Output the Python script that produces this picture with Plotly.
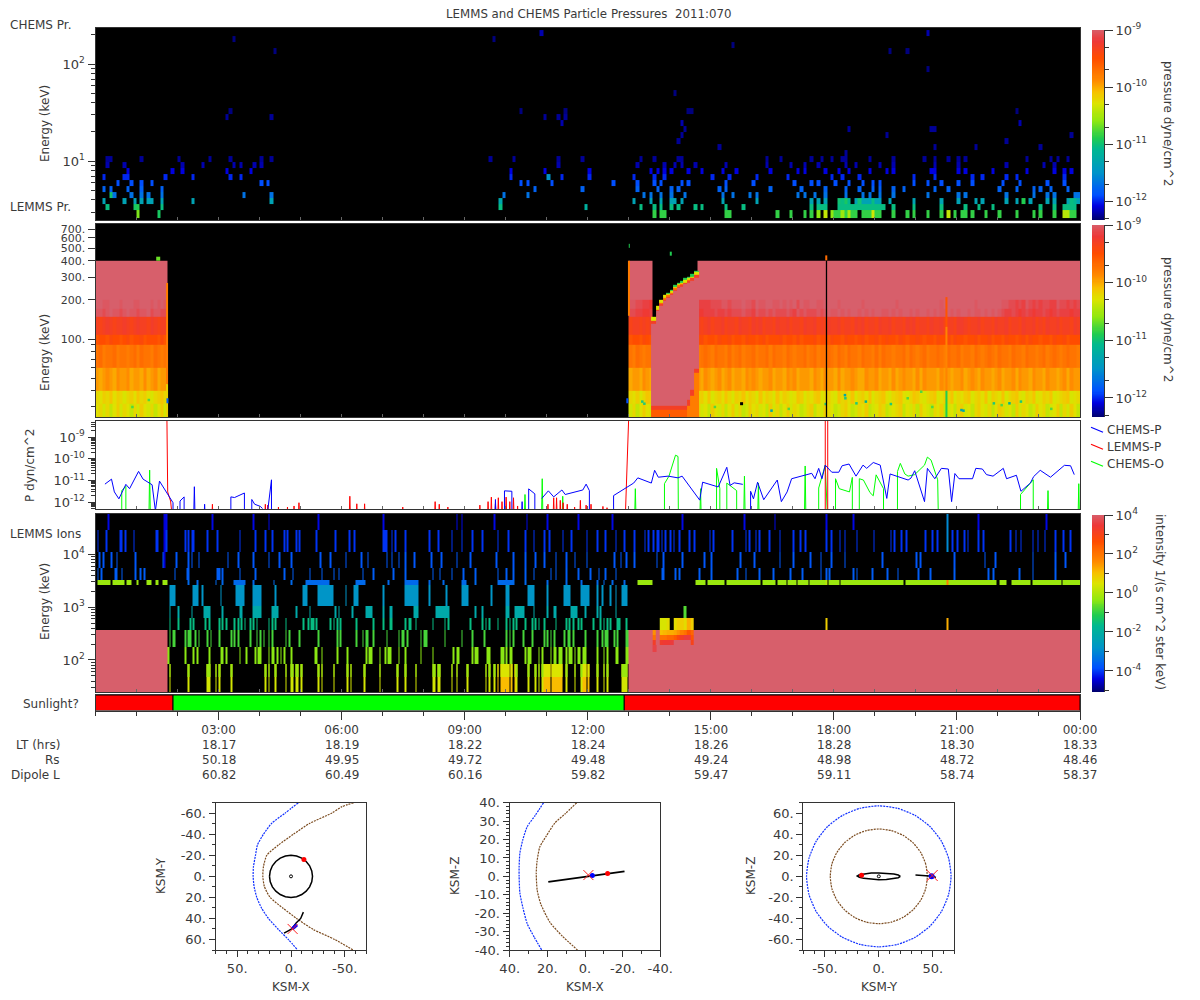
import numpy as np
import plotly.graph_objects as go

# ---------- shared scales ----------
TITLE = "LEMMS and CHEMS Particle Pressures\u00a0\u00a02011:070"
COLORSCALE = [[0.00, "#000070"], [0.07, "#0000e0"], [0.13, "#0050ff"], [0.25, "#0095c8"], [0.37, "#00b890"],
              [0.43, "#20cc50"], [0.52, "#90e810"], [0.61, "#dce400"], [0.67, "#f8c000"], [0.73, "#ff8c00"],
              [0.85, "#ff4c00"], [0.94, "#ee3838"], [1.00, "#d75f6b"]]
P_MIN, P_MAX = -12.33, -9.0
I_MIN, I_MAX = -5.08, 4.0

# ---------- panel 1: CHEMS pressure (columns are 5 minute bins, rows energy channels) ----------
chems_rows = {
    0: [163,165,166,184,185,199,203,207,209,211,213,(215,222),224,225,226,227,228,229,233,237,239,243,247,249,251,253,254,256,260,264,269,274,276,280,(283,286),12,18],
    1: [3,11,19,118,143,159,163,165,168,170,175,177,184,189,209,211,212,213,217,218,219,220,221,222,223,224,225,226,227,228,229,230,233,239,247,254,258,262,276,280,283,284,285,286],
    2: [2,8,11,13,15,16,19,28,51,118,157,162,165,168,169,171,183,193,209,211,213,217,218,219,220,222,223,224,225,226,227,228,229,232,239,247,252,257,259,266,269,271,273,278,280,284,285,286,287],
    3: [4,5,10,13,15,19,43,51,119,126,160,162,165,168,172,183,186,191,193,205,207,210,213,219,224,226,229,233,243,252,254,266,274,278,280,286,287],
    4: [2,4,9,13,19,128,142,158,164,168,170,182,184,197,206,213,219,223,227,229,233,236,245,249,264,269,274,276,279,284],
    5: [6,10,13,16,48,50,124,126,133,151,158,163,165,171,173,184,192,204,209,211,216,220,224,227,229,239,243,247,252,256,265,270,278,283],
    6: [2,8,9,20,28,39,42,121,132,136,144,157,163,166,180,185,193,202,215,218,223,239,245,256,259,266,269,283],
    7: [9,22,25,38,45,121,131,144,162,164,166,168,173,177,183,187,197,205,207,213,217,220,226,231,233,244,245,252,254,262,272,280,283,285],
    8: [3,8,25,31,40,42,46,48,135,158,166,169,171,175,184,196,203,207,211,219,222,229,233,245,252,266,277,280],
    9: [3,4,13,24,33,39,48,51,115,122,135,142,159,163,170,171,196,200,209,212,215,218,219,226,233,242,245,249,252,254,272,279,281,284],
    10: [219],
    11: [182,245,257,276],
    12: [170,266],
    13: [171,231,285],
    14: [172,220,244,245],
    15: [136,171,270],
    16: [38,51,131,135,137],
    17: [39,124,137,173,174,269],
    20: [169],
    24: [243],
    27: [52,232,237],
    28: [186],
    29: [40,116],
    30: [130,243],
}
chems_row_level = [-10.85,-11.05,-11.35,-11.7,-11.8,-11.9,-12.0,-12.1,-12.2,-12.25,-12.25,-12.25,-12.25,-12.25,-12.25,-12.2,-12.25,-12.3,-12.3,-12.3,-12.3,-12.3,-12.3,-12.3,-12.3,-12.3,-12.3,-12.3,-12.3,-12.3,-12.2,-12.3]
chems_override_col = [12,12,4,11,18,118,143,132,213,220,218,227,249,283,284,271,211,215,217,218,219,220,223,227,285,286]
chems_override_row = [0,1,3,1,0,2,1,6,0,0,0,0,0,0,0,2,0,0,2,2,2,2,2,2,2,2]
chems_override_val = [-10.65,-10.9,-11.0,-10.95,-10.95,-11.3,-11.2,-11.5,-10.4,-10.5,-10.55,-10.35,-10.4,-10.45,-10.45,-10.9,-10.6,-10.6,-11.0,-11.05,-10.95,-11.1,-11.0,-11.05,-11.05,-11.1]

# ---------- panel 2: LEMMS pressure (bands by columns) ----------
lemms_left_cols = 21      # first block of 5 minute bins
lemms_mid_start = 156
lemms_right_start = 176
lemms_band_edges = [25, 31.6, 39.8, 59.8, 90, 107, 147, 172, 199, 400]
lemms_band_base = [-10.28, -10.22, -9.95, -9.75, -9.5, -9.32, -9.10, -9.10, -8.9]
lemms_band_step = [0.06, 0.05, 0.06, 0.05, 0.05, 0.05, 0.06, 0.06, 0.0]
lemms_band_digits = [
    "231302413203142130241" "1302421" "3120421302413014231204130241320134021432013420132401243012340213042103240120341203421302431204132014230124031420413201243021340213",
    "213241320231423102342" "2130243" "2314023142032413204132041320143021340231042314023140234102341024310234013240213402314032140234103240132401234012341023410231420",
    "212321322312213123122" "1221321" "2132123123122132321223122132312221321322131223211322312213123221313222132212231232132212312231322132213221231322123213212232",
    "231223122123132213212" "2132122" "1232132213123122312231322132122312312232132132213221313221223132123122321322312213212321322132213221231232123221321322123123",
    "122132212312231222131" "1221321" "2312213223122132212312223122131222312213221322123122312322132122321221322313221223122312213221231322122132231222132212322132",
    "212321223212322132122" "1221212" "2123122312213221323122132231221322312132231221323122132231221323122132231221332122312213223122132231213223122132",
    "332343323433233423322" "2211001" "001112112122" "2322132232322232132322232" "3433434344343434433434344343443434334343443433434343" "21121012101121012111011",
    "443344434443344434343" "3322110" "111122233233" "3433243344334343424334433" "4444344444434444444443444444444444344444444434444444" "33221213212122113221212",
    "222222222222222222222" "2222222" + "2" * 112,
]
# small green / teal specks in the low channels
speck_hours = [13.38,13.33,16.48,17.8,18.27,18.28,18.55,18.78,19.39,20.13,21.11,21.16,21.9,22.09,22.28,22.56,0.9,1.3,15.1,16.9,19.8,20.4,23.3]
speck_kev = [31.8,33,28.1,31.6,37,35,32,33,31.6,39.3,28.4,28.1,32,31,32,33,30,34,30,29,35,30,29]
speck_color = ["#20c878","#20c878","#00a8a8","#20c878","#00a8a8","#20c878","#20c878","#00b090","#20c878","#50d840","#00a8a8","#00a8a8","#20c878","#50d840","#00b090","#20c878","#50d840","#50d840","#50d840","#50d840","#50d840","#50d840","#50d840"]

# dispersion event: upper edge and lower edge of saturation in keV, for bins 163..175
hot_first_col = 163
hot_top_kev = [140,172,193,207,218,230,247,260,270,279,290,300,316]
hot_bottom_kev = [31,31,31,31,31,31,31,31,31,31,34,40.5,60]

# thin features: hours from, hours to, keV from, keV to, log10 pressure
spot_h0 = [1.72,1.72,12.98,20.72,20.72,20.72,17.79,14.0,13.0,1.48,12.94,1.73]
spot_h1 = [1.76,1.76,13.02,20.78,20.78,20.78,17.83,14.05,13.03,1.58,12.98,1.77]
spot_e0 = [45,25,150,124,40,25,400,440,500,400,32,32]
spot_e1 = [270,45,400,210,124,40,440,470,540,430,35,35]
spot_v = [-9.8,-10.2,-9.8,-9.55,-9.85,-10.9,-9.7,-10.9,-10.9,-10.7,-11.9,-11.8]
dropout_hours = [17.82, 17.82]
dropout_kev = [25, 400]
dark_pixel_hour = [15.75]
dark_pixel_kev = [31.8]

# ---------- panel 3: line pressures (log10 dyn/cm^2, -13 is below the floor) ----------
chems_p_hours = [.23,.39,.46,.57,.74,.83,1.05,1.16,1.38,1.46,1.56,1.69,1.83,1.89,1.89,None,
                 2.06,2.06,2.16,2.16,None,3.3,3.3,3.39,3.63,3.63,None,3.81,3.81,3.88,4.02,4.07,None,4.16,4.29,4.29,None,
                 9.97,9.97,10.15,10.15,None,10.56,10.56,10.71,10.71,None,10.88,11.04,11.17,11.37,11.45,11.88,11.96,12.04,12.04,None,
                 12.63,12.63,13.12,13.22,13.55,13.63,13.72,13.96,14.2,14.3,14.73,14.8,15.18,15.39,15.47,15.57,15.78,None,
                 15.97,15.97,16.04,16.14,16.29,16.62,16.72,16.86,16.97,17.46,17.54,17.63,17.71,17.79,17.95,18.12,18.2,18.37,18.54,18.71,18.8,18.96,19.13,19.29,19.37,19.62,19.81,19.88,19.97,20.21,20.28,20.46,20.62,20.79,20.87,20.95,21.05,21.38,21.46,21.62,21.72,21.88,22.13,22.21,22.45,22.56,22.79,22.87,23.03,23.28,23.62,23.77,23.86]
chems_p_log = [-11.17,-10.94,-11.53,-11.85,-11.18,-11.38,-10.58,-10.94,-11.2,-12.4,-11.03,-11.42,-11.8,-12.03,-13,None,
               -13,-11.95,-11.76,-13,None,-13,-11.76,-11.79,-11.58,-13,None,-13,-11.88,-12.1,-12.2,-12.3,None,-13,-10.97,-13,None,
               -13,-11.48,-11.5,-13,None,-13,-11.39,-11.62,-13,None,-11.83,-11.48,-11.76,-11.44,-11.65,-11.44,-11.17,-11.47,-13,None,
               -13,-11.7,-11.12,-10.88,-11.12,-10.53,-10.85,-10.8,-10.88,-10.8,-11.91,-11.08,-11.3,-10.39,-11.23,-11.11,-11.18,None,
               -13,-11.5,-11.85,-11.08,-11.89,-10.98,-11.98,-11.53,-10.92,-10.67,-10.92,-10.44,-10.92,-10.29,-10.62,-10.62,-10.32,-10.24,-10.8,-10.29,-10.44,-10.17,-10.29,-11.83,-10.7,-10.85,-10.98,-10.89,-10.55,-11.98,-10.44,-10.92,-10.44,-10.47,-11.98,-10.68,-10.92,-10.92,-10.44,-10.47,-10.73,-10.8,-10.44,-10.92,-10.76,-11.5,-11.12,-10.82,-10.53,-10.85,-10.3,-10.32,-10.73]
chems_p_spike_hours = [2.39,2.64,9.73,10.38]
chems_p_spike_log = [-11.29,-12.1,-11.88,-11.98]

lemms_p_hours = [1.74,1.76,1.83,1.89,None,12.91,13.0,None,17.79,17.79,None,17.85,17.85]
lemms_p_log = [-8,-11.53,-11.95,-13,None,-13,-8,None,-13,-8,None,-13,-8]
lemms_p_spike_hours = [2.83,4.12,4.18,4.44,4.66,4.82,4.94,6.18,6.35,6.54,7.47,8.26,8.36,8.57,9.35,9.55,9.63,9.73,9.8,9.89,9.99,10.08,10.17,10.27,11.01,11.15,11.22,11.31,11.38,11.48,11.66,11.8,11.94,12.06,12.35,12.45]
lemms_p_spike_log = [-12.1,-12.1,-12.14,-12.23,-12.23,-12.18,-12.03,-11.73,-12.08,-12.08,-12.23,-11.98,-12.1,-12.23,-12.14,-11.98,-11.77,-12.08,-11.8,-11.98,-11.77,-11.98,-11.8,-12.18,-12.1,-11.8,-11.8,-11.92,-12.03,-12.1,-12.23,-11.92,-12.14,-12.1,-12.2,-12.26]

chems_o_hours = [.64,.64,.74,.74,None,13.87,13.87,13.98,14.14,14.2,14.21,None,15.14,15.14,15.22,15.22,None,15.39,15.39,15.63,15.63,None,
                 17.63,17.63,17.79,17.85,None,18.04,18.04,18.13,18.38,18.45,18.45,None,18.62,18.62,18.72,18.88,18.96,19.03,19.21,19.21,None,
                 19.55,19.55,19.62,19.73,19.81,19.97,20.21,20.28,20.37,20.53,20.55,None,22.55,22.55,22.86,22.86]
chems_o_log = [-13,-11.47,-11.27,-13,None,-13,-11.15,-10.8,-9.83,-9.89,-13,None,-13,-10.44,-11.38,-13,None,-13,-11.12,-11.47,-13,None,
               -13,-11.35,-10.29,-13,None,-13,-10.92,-11.38,-11.53,-10.86,-13,None,-13,-10.92,-10.98,-11.56,-11.71,-10.74,-11.38,-13,None,
               -13,-10.59,-10.21,-10.7,-10.8,-10.73,-10.29,-9.92,-10.06,-10.97,-13,None,-13,-11.65,-10.97,-13]
chems_o_spike_hours = [1.30,10.45,10.87,11.37,13.14,14.73,15.8,16.14,17.28,23.2,23.95]
chems_o_spike_log = [-10.52,-11.65,-10.92,-11.73,-11.38,-11.38,-10.8,-11.12,-10.33,-11.47,-11.15]

# ---------- panel 4: LEMMS ions (columns are 2.5 minute bins, tuple = run of bins) ----------
ion_row_edges_log = [1.394,1.924,2.252,2.568,2.795,3.023,3.42,3.515,3.742,4.05,4.46,4.763]
ion_row_level = [0.35,-0.4,-0.9,-1.6,-2.2,-2.8,-3.5,-3.7,-3.8,-4.1,-4.4]
ion_sat_cols = [(0,41),(312,575)]
ion_rows_cols = {
    0: [43,54,65,66,70,72,79,99,101,105,111,114,115,117,118,120,130,132,139,147,149,157,166,176,181,187,197,198,200,201,208,211,217,228,230,233,235,(237,241),243,245,246,253,257,259,(261,265),(267,272),275,280,(284,286),288,293,297,299,(308,310)],
    1: [42,52,57,59,66,73,74,76,84,88,93,95,96,101,103,104,106,108,110,114,128,129,132,141,147,158,160,161,166,169,171,172,177,181,190,197,209,211,212,220,222,223,229,230,237,238,240,242,243,251,253,254,259,261,266,268,269,271,272,275,277,278,280,282,283,285,286,293,297,299,304,305,310,311],
    2: [43,45,46,52,54,55,58,60,65,67,72,79,81,83,90,94,96,98,101,103,111,113,119,130,141,143,152,156,158,159,162,170,177,179,180,182,190,192,193,204,214,220,227,240,242,244,250,255,262,264,266,268,274,276,277,279,286,293,296,298,299,303,305,310,311],
    3: [43,48,55,57,64,66,72,74,76,81,83,85,87,90,92,94,101,103,105,111,121,124,126,127,129,137,139,141,143,152,162,168,172,173,181,183,184,187,197,204,206,219,226,228,230,235,240,242,244,246,251,255,257,259,262,269,275,277,279,282,284,291,295,297,299,301,305,306,310],
    4: [43,48,56,(63,66),74,(84,85),(92,96),(103,106),117,125,140,142,150,(158,161),168,(172,173),(186,188),(199,206),222,226,(240,241),(245,250),256,264,(268,269),(278,281),286,293,295,304],
    5: [(43,46),(57,59),62,73,(82,86),(92,96),105,(121,123),(130,138),146,(151,153),168,(181,188),195,205,(214,217),231,(240,241),(253,256),264,(274,277),(284,288),293,296,301,304,(308,310)],
    6: [54,59,70,74,(81,87),92,104,114,(123,136),(152,157),171,(181,188),195,203,(214,216),222,(235,244),251,264,275,284,293,297,302,309],
    7: [1,3,11,12,15,23,26,28,46,53,54,71,72,74,84,93,110,115,125,132,139,142,156,162,174,181,197,201,208,215,222,235,240,244,251,256,266,269,275,282,289,294,298,304,331,332,339,341,353,360,375,380,388,396,406,413,424,427,429,443,445,454,463,469,481,488,502,522,525,540,548,561],
    8: [2,4,9,12,23,39,47,54,56,60,77,83,92,101,107,114,131,137,146,155,159,170,173,177,181,186,196,202,211,219,234,244,251,257,262,269,275,280,287,303,307,310,315,328,332,343,356,360,377,385,400,408,418,424,430,438,460,480,482,502,520,526,548,561,567],
    9: [1,6,14,15,17,22,35,36,41,52,54,56,57,65,71,84,93,99,103,110,112,117,119,129,140,148,151,(168,170),173,175,181,195,200,208,214,220,226,235,241,251,256,262,265,273,278,287,293,298,304,309,315,321,323,326,328,329,331,333,336,338,341,347,350,359,361,372,380,382,386,388,394,400,408,412,415,427,430,435,438,445,455,465,467,471,474,485,489,492,501,504,508,510,516,519,535,538,541,548,551,555,561,566,570],
    10: [7,41,68,92,101,130,168,211,214,233,252,264,282,302,343,379,397,427,443,498,516,556],
}
ion_warm_cols = [(234,245),(262,272),(285,288)]
ion_warm_level = 1.05
ion_upper_low_log = [1.678, 1.924]     # upper half of the lowest channel reads greener
ion_upper_shift = -0.6
ion_lime_cols = [(1,8),(10,16),(18,20),24,(30,32),(35,36),(39,41),(317,325),(351,356),(358,367),(369,388),(390,397),(399,403),(405,409),(411,416),(418,427),(429,434),(436,472),(474,526),(529,532),(536,546),(548,564),(566,575)]
ion_lime_level = -0.25
ion_thin_col = [427,427,498,498,498,498,40,40,40]
ion_thin_row = [3,6,3,6,9,10,10,9,8]
ion_thin_val = [0.8,0.1,1.2,1.8,-3.0,-3.0,-4.5,-4.5,-4.5]
ion_row4_extra_col = [344,345]
# hot plasma event over the saturated block: keV edges (log10), 5 minute bins 163..174
ion_hot_edges_log = [2.284,2.379,2.473,2.568,2.795]
ion_hot_first_col = 163
ion_hot_z = [
    [3.2,None,3.3,3.4,3.4,3.5,4.0,4.0,4.0,4.0,4.0,3.0],
    [2.0,None,2.0,2.0,2.2,2.2,2.4,2.8,3.2,3.5,3.5,2.5],
    [1.5,None,1.0,1.1,1.2,1.2,1.3,1.5,1.8,2.0,2.5,2.2],
    [None,None,0.4,0.4,0.6,None,0.6,0.8,0.8,0.6,1.2,0.8],
]
ion_hot_low_hours = [13.58, 13.67]
ion_hot_low_kev = [10**2.15, 10**2.284]
ion_hot_low_z = [[3.6]]

# ---------- sunlight strip ----------
sun_start = [0.0, 1.89, 12.89]
sun_length = [1.89, 11.0, 11.11]
sun_color = ["#ff0000", "#00ff00", "#ff0000"]

# ---------- table below the time axis ----------
time_hours = [3,6,9,12,15,18,21,24]
time_labels = ["03:00","06:00","09:00","12:00","15:00","18:00","21:00","00:00"]
lt_hrs = ["18.17","18.19","18.22","18.24","18.26","18.28","18.30","18.33"]
rs_vals = ["50.18","49.95","49.72","49.48","49.24","48.98","48.72","48.46"]
dipole_l = ["60.82","60.49","60.16","59.82","59.47","59.11","58.74","58.37"]

# ---------- orbit plots ----------
xy_shock_x = [-6.8,5.6,17.9,25.6,31.2,33,34.9,35.2,34.3,31.8,27.2,21,11.7,2.5,-6.2]
xy_shock_y = [-70,-60,-50.5,-40,-29.8,-20,-9.2,0,9.8,20,30.5,40,50.5,60,70]
xy_pause_x = [-58.3,-46.9,-37.7,-17.6,-2.2,11.7,22.5,25.6,26.2,24.7,19.4,7.1,-5.2,-20.7,-40.7,-57.7]
xy_pause_y = [-70,-66,-60,-50.5,-40,-29.8,-20,-9.2,0,9.8,20,30.5,40,50.5,60,70]
orbit_ring_a = [20,19.3,17.3,14.1,10,5.2,0,-5.2,-10,-14.1,-17.3,-19.3,-20,-19.3,-17.3,-14.1,-10,-5.2,0,5.2,10,14.1,17.3,19.3,20]
orbit_ring_b = [0,5.2,10,14.1,17.3,19.3,20,19.3,17.3,14.1,10,5.2,0,-5.2,-10,-14.1,-17.3,-19.3,-20,-19.3,-17.3,-14.1,-10,-5.2,0]
xy_track_x = [-11.5,-9,-5,-0.6,3,6.5]
xy_track_y = [34,40,44,50,52,54]
xy_now_x, xy_now_y = [-12], [-16]
xy_seg_x, xy_seg_y = [-1,-5.5], [50,46]
xy_cross_x, xy_cross_y = [-1.5], [50]

xz_shock_x = [22,26.5,30.7,33,34.6,35,35,34.6,33,30.7,27,23]
xz_shock_z = [40,33,27,20,12.6,5,0,-9,-17,-25.7,-33,-40]
xz_pause_x = [4.4,10.5,16,20.5,24,25.5,25.9,25.4,23.5,18.6,12,4]
xz_pause_z = [40,34,29,22,16,8,1.6,-7.5,-15,-25,-32.5,-40]
xz_orbit_x = [19.5,-21]
xz_orbit_z = [-3,2.7]
xz_now_x, xz_now_z = [-12], [1.5]
xz_blue_x, xz_blue_z = [-3.9], [0.5]
xz_cross_x, xz_cross_z = [-1.8], [0.7]

yz_shock_y = [67,64.7,58,47.4,33.5,17.3,0,-17.3,-33.5,-47.4,-58,-64.7,-67,-64.7,-58,-47.4,-33.5,-17.3,0,17.3,33.5,47.4,58,64.7,67]
yz_shock_z = [0,17.3,33.5,47.4,58,64.7,67,64.7,58,47.4,33.5,17.3,0,-17.3,-33.5,-47.4,-58,-64.7,-67,-64.7,-58,-47.4,-33.5,-17.3,0]
yz_pause_y = [45,43.5,39,31.8,22.5,11.6,0,-11.6,-22.5,-31.8,-39,-43.5,-45,-43.5,-39,-31.8,-22.5,-11.6,0,11.6,22.5,31.8,39,43.5,45]
yz_pause_z = [0,11.6,22.5,31.8,39,43.5,45,43.5,39,31.8,22.5,11.6,0,-11.6,-22.5,-31.8,-39,-43.5,-45,-43.5,-39,-31.8,-22.5,-11.6,0]
yz_ring_y = [20,18,14,7,0,-7,-14,-18,-20,-18,-14,-7,0,7,14,18,20]
yz_ring_z = [0,1.3,2.3,3,3.3,3.2,2.6,1.6,0.4,-0.8,-1.9,-2.9,-3.3,-3.1,-2.4,-1.3,0]
yz_track_y = [34,40,46,50,53]
yz_track_z = [1.2,1,0.5,0,-1]
yz_now_y, yz_now_z = [-16], [1]
yz_blue_y, yz_blue_z = [49], [0]
yz_cross_y, yz_cross_z = [49.5], [0.8]

# ---------- page geometry ----------
W, H = 1200, 1000
FONT = "DejaVu Sans"
INK = "#3a3a3a"
FRAME = "#333333"
X0, X1 = 95.5, 1080
def xd(a, b): return [a / W, b / W]
def yd(top, bottom): return [1 - bottom / H, 1 - top / H]
def expand(spec):
    out = []
    for s in spec:
        if isinstance(s, tuple):
            out.extend(range(s[0], s[1] + 1))
        else:
            out.append(s)
    return out
def clean(a):
    return [[None if np.isnan(v) else float(v) for v in r] for r in a]
def powers(vals):
    return ["10<sup>%d</sup>" % v for v in vals]
def log_minor(lo, hi):
    return [m * 10.0 ** k for k in range(lo, hi) for m in range(2, 10)]

fig = go.Figure()
HM = dict(colorscale=COLORSCALE, showscale=False, hoverinfo="skip", xgap=0, ygap=0)

# panel 1
chems_edges = list(np.geomspace(2.71, 258, 33))
chems_edges[0] = 2.6
chems_x = [c / 12 for c in range(289)]
z1 = np.full((32, 288), np.nan)
for row, cols in chems_rows.items():
    for c in expand(cols):
        z1[row, c] = chems_row_level[row]
for c, r, v in zip(chems_override_col, chems_override_row, chems_override_val):
    z1[r, c] = v
fig.add_trace(go.Heatmap(x=chems_x, y=chems_edges, z=clean(z1), zmin=P_MIN, zmax=P_MAX, xaxis="x", yaxis="y", **HM))

# panel 2
z2 = np.full((len(lemms_band_base), 288), np.nan)
active = list(range(lemms_left_cols)) + list(range(lemms_mid_start, lemms_mid_start + 7)) + list(range(lemms_right_start, 288))
for b, digits in enumerate(lemms_band_digits):
    digits = digits.ljust(len(active), "2")
    for i, c in enumerate(active):
        z2[b, c] = lemms_band_base[b] + (int(digits[i]) - 2) * lemms_band_step[b]
fig.add_trace(go.Heatmap(x=chems_x, y=lemms_band_edges, z=clean(z2), zmin=P_MIN, zmax=P_MAX, xaxis="x2", yaxis="y2", **HM))
hot_y = list(np.geomspace(25, 400, 110))
hot_mid = [np.sqrt(hot_y[i] * hot_y[i + 1]) for i in range(len(hot_y) - 1)]
hot_z = np.full((len(hot_mid), len(hot_top_kev)), np.nan)
for j, (top, bot) in enumerate(zip(hot_top_kev, hot_bottom_kev)):
    for i, e in enumerate(hot_mid):
        if e > top * 1.05: continue
        if e > top * 1.02: hot_z[i, j] = -10.9 if j > 3 else -10.3
        elif e > top / 1.01: hot_z[i, j] = -10.3
        elif e > top / 1.03: hot_z[i, j] = -9.75
        elif e > top / 1.06: hot_z[i, j] = -9.3
        elif e > bot: hot_z[i, j] = -8.9
        elif e > bot / 1.1: hot_z[i, j] = -9.3
        else: hot_z[i, j] = -9.6 if bot < 33 else -9.8
hot_x = [(hot_first_col + k) / 12 for k in range(len(hot_top_kev) + 1)]
hot_x[0] -= 0.04
hot_x[-1] += 0.04
fig.add_trace(go.Heatmap(x=hot_x, y=hot_y, z=clean(hot_z), zmin=P_MIN, zmax=P_MAX, xaxis="x2", yaxis="y2", **HM))
for h0, h1, e0, e1, v in zip(spot_h0, spot_h1, spot_e0, spot_e1, spot_v):
    fig.add_trace(go.Heatmap(x=[h0, h1], y=[e0, e1], z=[[v]], zmin=P_MIN, zmax=P_MAX, xaxis="x2", yaxis="y2", **HM))
fig.add_trace(go.Scatter(x=speck_hours, y=speck_kev, mode="markers", marker=dict(color=speck_color, size=2.5, symbol="square", line=dict(width=0)), xaxis="x2", yaxis="y2", hoverinfo="skip"))
fig.add_trace(go.Scatter(x=dropout_hours, y=dropout_kev, mode="lines", line=dict(color="black", width=1.3), xaxis="x2", yaxis="y2", hoverinfo="skip"))
fig.add_trace(go.Scatter(x=dark_pixel_hour, y=dark_pixel_kev, mode="markers", marker=dict(color="black", size=3, symbol="square"), xaxis="x2", yaxis="y2", hoverinfo="skip"))

# panel 3
def spikes(h, v):
    xs, ys = [], []
    for a, b in zip(h, v):
        xs += [a, a + 0.02, a + 0.04, None]
        ys += [-13, b, -13, None]
    return xs, ys
def pow10(vals):
    return [None if v is None else 10.0 ** v for v in vals]
for name, color, hrs, logs, sh, sl in [
    ("CHEMS-O", "#00ff00", chems_o_hours, chems_o_log, chems_o_spike_hours, chems_o_spike_log),
    ("LEMMS-P", "#ff0000", lemms_p_hours, lemms_p_log, lemms_p_spike_hours, lemms_p_spike_log),
    ("CHEMS-P", "#0000ff", chems_p_hours, chems_p_log, chems_p_spike_hours, chems_p_spike_log)]:
    xs, ys = spikes(sh, sl)
    fig.add_trace(go.Scatter(x=list(hrs) + [None] + xs, y=pow10(list(logs) + [None] + ys), mode="lines", name=name,
                             line=dict(color=color, width=1), connectgaps=False, xaxis="x3", yaxis="y3", hoverinfo="skip", showlegend=False))

# panel 4
z4 = np.full((11, 576), np.nan)
for c in expand(ion_sat_cols):
    z4[0:3, c] = 4.0
for row, spec in ion_rows_cols.items():
    for c in expand(spec):
        z4[row, c] = ion_row_level[row]
for c in expand(ion_lime_cols):
    z4[6, c] = ion_lime_level
for c in expand(ion_warm_cols):
    if not np.isnan(z4[0, c]):
        z4[0, c] = ion_warm_level
for c, r, v in zip(ion_thin_col, ion_thin_row, ion_thin_val):
    z4[r, c] = v
for c in ion_row4_extra_col:
    z4[4, c] = -0.8
ion_edges = [10.0 ** v for v in ion_row_edges_log]
ion_x = [c / 24 for c in range(577)]
fig.add_trace(go.Heatmap(x=ion_x, y=ion_edges, z=clean(z4), zmin=I_MIN, zmax=I_MAX, xaxis="x4", yaxis="y4", **HM))
upper = [[None if (np.isnan(v) or v >= 4) else float(v) + ion_upper_shift for v in z4[0]]]
fig.add_trace(go.Heatmap(x=ion_x, y=[10.0 ** v for v in ion_upper_low_log], z=upper, zmin=I_MIN, zmax=I_MAX, xaxis="x4", yaxis="y4", **HM))
fig.add_trace(go.Heatmap(x=ion_hot_low_hours, y=ion_hot_low_kev, z=ion_hot_low_z, zmin=I_MIN, zmax=I_MAX, xaxis="x4", yaxis="y4", **HM))
fig.add_trace(go.Heatmap(x=[(ion_hot_first_col + k) / 12 for k in range(13)], y=[10.0 ** v for v in ion_hot_edges_log],
                         z=ion_hot_z, zmin=I_MIN, zmax=I_MAX, xaxis="x4", yaxis="y4", **HM))

# sunlight strip
fig.add_trace(go.Bar(x=sun_length, y=[0, 0, 0], base=sun_start, orientation="h", width=1, marker=dict(color=sun_color, line=dict(color="black", width=1)),
                     xaxis="x5", yaxis="y5", hoverinfo="skip", showlegend=False))

# colour bars
cb_p = list(np.linspace(P_MIN, P_MAX, 181))
cb_i = list(np.linspace(I_MIN, I_MAX, 181))
for xa, ya, lv, lo, hi in [("x6", "y6", cb_p, P_MIN, P_MAX), ("x7", "y7", cb_p, P_MIN, P_MAX), ("x8", "y8", cb_i, I_MIN, I_MAX)]:
    fig.add_trace(go.Heatmap(x=[0, 1], y=lv, z=[[v] for v in lv[:-1]], zmin=lo, zmax=hi, xaxis=xa, yaxis=ya, **HM))

# orbit plots
SH = dict(color="#1030ff", width=1.2, dash="2px,1px")
MP = dict(color="#7a4a1e", width=1.2, dash="2px,1px")
def orbit_lines(xa, ya, series):
    for xs, ys, line in series:
        fig.add_trace(go.Scatter(x=xs, y=ys, mode="lines", line=dict(shape="spline", smoothing=0.6, **line) if "dash" in line else line, xaxis=xa, yaxis=ya, hoverinfo="skip", showlegend=False))
def orbit_marks(xa, ya, series):
    for xs, ys, sym, size, col, w in series:
        fig.add_trace(go.Scatter(x=xs, y=ys, mode="markers", marker=dict(symbol=sym, size=size, color=col, line=dict(color=col, width=w)),
                                 xaxis=xa, yaxis=ya, hoverinfo="skip", showlegend=False))
blk = dict(color="black", width=1.5)
orbit_lines("x9", "y9", [(xy_shock_x, xy_shock_y, SH), (xy_pause_x, xy_pause_y, MP), (orbit_ring_a, orbit_ring_b, blk), (xy_track_x, xy_track_y, blk),
                         (xy_seg_x, xy_seg_y, dict(color="#0000ff", width=3.5))])
orbit_marks("x9", "y9", [(xy_now_x, xy_now_y, "circle", 5, "#ff0000", 0), (xy_cross_x, xy_cross_y, "x-thin", 10, "#ff2020", 1), ([0], [0], "circle-open", 3, "black", 1)])
orbit_lines("x10", "y10", [(xz_shock_x, xz_shock_z, SH), (xz_pause_x, xz_pause_z, MP), (xz_orbit_x, xz_orbit_z, dict(color="black", width=2))])
orbit_marks("x10", "y10", [(xz_now_x, xz_now_z, "circle", 5, "#ff0000", 0), (xz_blue_x, xz_blue_z, "circle", 5, "#0000ff", 0), (xz_cross_x, xz_cross_z, "x-thin", 10, "#ff2020", 1)])
orbit_lines("x11", "y11", [(yz_shock_y, yz_shock_z, SH), (yz_pause_y, yz_pause_z, MP), (yz_ring_y, yz_ring_z, blk), (yz_track_y, yz_track_z, blk)])
orbit_marks("x11", "y11", [(yz_now_y, yz_now_z, "circle", 5, "#ff0000", 0), (yz_blue_y, yz_blue_z, "circle", 6, "#0000ff", 0), (yz_cross_y, yz_cross_z, "x-thin", 11, "#ff2020", 1), ([0], [0], "circle-open", 3, "black", 1)])

# ---------- axes ----------
TF = dict(family=FONT, size=13, color=INK)
def time_axis(top, bottom, anchor):
    return dict(domain=xd(X0, X1), range=[0, 24], anchor=anchor, showgrid=False, zeroline=False, showline=True, mirror=True, linecolor=FRAME, linewidth=1,
                tickmode="linear", tick0=0, dtick=1, ticks="inside", ticklen=3, tickcolor="#666666", showticklabels=False)
def energy_axis(top, bottom, rng, vals, text, minor, anchor, font=TF):
    return dict(domain=yd(top, bottom), type="log", range=rng, anchor=anchor, showgrid=False, zeroline=False, showline=True, mirror=True, linecolor=FRAME, linewidth=1,
                tickmode="array", tickvals=vals, ticktext=text, ticks="outside", ticklen=7, tickcolor=FRAME, tickfont=font,
                minor=dict(tickmode="array", tickvals=minor, ticks="outside", ticklen=4, tickcolor=FRAME, showgrid=False))
def cbar_axes(top, bottom, rng, vals, text, minor, n):
    xa = dict(domain=xd(1092, 1104), range=[0, 1], anchor="y%d" % n, showticklabels=False, ticks="", showgrid=False, zeroline=False, showline=False)
    ya = dict(domain=yd(top, bottom), range=rng, side="right", anchor="x%d" % n, showgrid=False, zeroline=False, showline=True, linecolor=FRAME,
              tickmode="array", tickvals=vals, ticktext=text, ticks="outside", ticklen=8, tickcolor=FRAME, tickfont=TF,
              minor=dict(tickmode="array", tickvals=minor, ticks="outside", ticklen=4, tickcolor=FRAME, showgrid=False))
    return xa, ya

layout = dict(template="none", width=W, height=H, autosize=False, margin=dict(l=0, r=0, t=0, b=0, pad=0), paper_bgcolor="white", plot_bgcolor="white",
              showlegend=False, barmode="overlay", font=dict(family=FONT, size=12, color=INK))
layout["xaxis"] = time_axis(28, 220, "y")
layout["yaxis"] = energy_axis(28, 220, [0.395, 2.371], [10, 100], powers([1, 2]), log_minor(0, 2) + [200], "x")
layout["xaxis2"] = time_axis(224, 417, "y2")
layout["yaxis2"] = energy_axis(224, 417, [1.4, 2.885], [100, 200, 300, 400, 500, 600, 700], ["100.", "200.", "300.", "400.", "500.", "600.", "700."],
                               [30, 40, 50, 60, 70, 80, 90], "x2", dict(family=FONT, size=11, color=INK))
layout["xaxis3"] = time_axis(421, 509, "y3")
layout["yaxis3"] = energy_axis(421, 509, [-12.32, -8.25], [1e-12, 1e-11, 1e-10, 1e-9], powers([-12, -11, -10, -9]), log_minor(-13, -8), "x3")
layout["xaxis4"] = time_axis(514, 692, "y4")
layout["yaxis4"] = energy_axis(514, 692, [1.394, 4.763], [100, 1000, 10000], powers([2, 3, 4]), log_minor(1, 4), "x4")
layout["xaxis5"] = dict(domain=xd(X0, X1), range=[0, 24], anchor="y5", showgrid=False, zeroline=False, showline=True, mirror=True, linecolor=FRAME, linewidth=1,
                        tickmode="array", tickvals=time_hours, ticktext=time_labels, ticks="outside", ticklen=8, tickcolor=FRAME, tickfont=dict(family=FONT, size=12, color=INK),
                        minor=dict(tickmode="linear", tick0=0, dtick=1, ticks="outside", ticklen=4, tickcolor=FRAME, showgrid=False))
layout["yaxis5"] = dict(domain=yd(695, 710.5), range=[-0.5, 0.5], anchor="x5", showticklabels=False, ticks="", showgrid=False, zeroline=False, showline=True, mirror=True, linecolor=FRAME, linewidth=1)

p_minor = [-12.3, -11.7, -11.3, -10.7, -10.3, -9.7, -9.3]
for n, top, bottom, rng, vals, text, minor in [
    (6, 30, 220, [P_MIN, P_MAX], [-12, -11, -10, -9], powers([-12, -11, -10, -9]), p_minor),
    (7, 225, 417, [P_MIN, P_MAX], [-12, -11, -10, -9], powers([-12, -11, -10, -9]), p_minor),
    (8, 515, 692, [I_MIN, I_MAX], [-4, -2, 0, 2, 4], powers([-4, -2, 0, 2, 4]), [-5, -3, -1, 1, 3])]:
    xa, ya = cbar_axes(top, bottom, rng, vals, text, minor, n)
    layout["xaxis%d" % n] = xa
    layout["yaxis%d" % n] = ya

def orbit_axes(n, left, right, xr, yr, xv, xt, xm, yv, yt, ym):
    FR = dict(showgrid=False, zeroline=False, showline=True, mirror=True, linecolor=FRAME, linewidth=1.2, tickmode="array", ticks="outside", ticklen=6, tickcolor=FRAME,
              tickfont=dict(family=FONT, size=13, color=INK))
    layout["xaxis%d" % n] = dict(domain=xd(left, right), range=xr, anchor="y%d" % n, tickvals=xv, ticktext=xt,
                                 minor=dict(tickmode="array", tickvals=xm, ticks="outside", ticklen=3, tickcolor=FRAME, showgrid=False), **FR)
    layout["yaxis%d" % n] = dict(domain=yd(802.7, 950), range=yr, anchor="x%d" % n, tickvals=yv, ticktext=yt,
                                 minor=dict(tickmode="array", tickvals=ym, ticks="outside", ticklen=3, tickcolor=FRAME, showgrid=False), **FR)
t70 = list(range(-70, 71, 10))
orbit_axes(9, 215.7, 366.3, [70, -70], [70, -70], [50, 0, -50], ["50.", "0.", "-50."], t70,
           [-60, -40, -20, 0, 20, 40, 60], ["-60.", "-40.", "-20.", "0.", "20.", "40.", "60."], t70)
orbit_axes(10, 509.7, 660.3, [40, -40], [-40, 40], [40, 20, 0, -20, -40], ["40.", "20.", "0.", "-20.", "-40."], list(range(-40, 41, 10)),
           list(range(-40, 41, 10)), ["-40.", "-30.", "-20.", "-10.", "0.", "10.", "20.", "30.", "40."], list(range(-40, 41, 2)))
orbit_axes(11, 803.3, 954.3, [-70, 70], [-70, 70], [-50, 0, 50], ["-50.", "0.", "50."], t70,
           [60, 40, 20, 0, -20, -40, -60], ["60.", "40.", "20.", "0.", "-20.", "-40.", "-60."], t70)
fig.update_layout(**layout)

# black background behind the spectrograms
for n in ["", "2", "4"]:
    fig.add_shape(type="rect", xref="x%s domain" % n, yref="y%s domain" % n, x0=0, x1=1, y0=0, y1=1, fillcolor="black", line_width=0, layer="below")

# ---------- text ----------
def note(text, px, py, size=12, anchor="left", angle=0, xref="paper", x=None):
    fig.add_annotation(text=text, x=(px / W if x is None else x), y=1 - py / H, xref=xref, yref="paper", xanchor=anchor, yanchor="middle", showarrow=False,
                       textangle=angle, font=dict(family=FONT, size=size, color=INK))
note(TITLE, 588, 14.5, 11.8, "center")
note("CHEMS Pr.", 8, 25)
note("LEMMS Pr.", 8, 207)
note("LEMMS Ions", 7.5, 534)
note("Sunlight?", 81, 704, 12, "right")
note("LT (hrs)", 62, 745, 12, "right")
note("Rs", 62, 760, 12, "right")
note("Dipole L", 62, 775, 12, "right")
note("Energy (keV)", 45, 124, 12, "center", -90)
note("Energy (keV)", 45, 353, 12, "center", -90)
note("P dyn/cm^2", 30, 466, 12, "center", -90)
note("Energy (keV)", 45, 602, 12, "center", -90)
note("pressure dyne/cm^2", 1168, 123, 12, "center", 90)
note("pressure dyne/cm^2", 1168, 319, 12, "center", 90)
note("intensity 1/(s cm^2 ster keV)", 1160, 602, 12, "center", 90)
for h, a, b, c in zip(time_hours, lt_hrs, rs_vals, dipole_l):
    for val, py in zip((a, b, c), (745, 760, 775)):
        note(val, 0, py, 12, "center", xref="x5", x=h)
for txt, py, col in [("CHEMS-P", 429.7, "#0000ff"), ("LEMMS-P", 446.7, "#ff0000"), ("CHEMS-O", 463.7, "#00ff00")]:
    note(txt, 1105, py)
    fig.add_shape(type="line", xref="paper", yref="paper", x0=1091 / W, x1=1103 / W, y0=1 - (py - 2.5) / H, y1=1 - (py + 2.5) / H, line=dict(color=col, width=1.2))
note("KSM-X", 291, 987, 12, "center")
note("KSM-Y", 161, 876, 12, "center", -90)
note("KSM-X", 585, 987, 12, "center")
note("KSM-Z", 455, 876, 12, "center", -90)
note("KSM-Y", 879, 987, 12, "center")
note("KSM-Z", 751, 876, 12, "center", -90)

fig.write_html("out.html", config={"displayModeBar": False},
               post_script="document.body.style.margin='0';document.body.style.overflow='hidden';")
